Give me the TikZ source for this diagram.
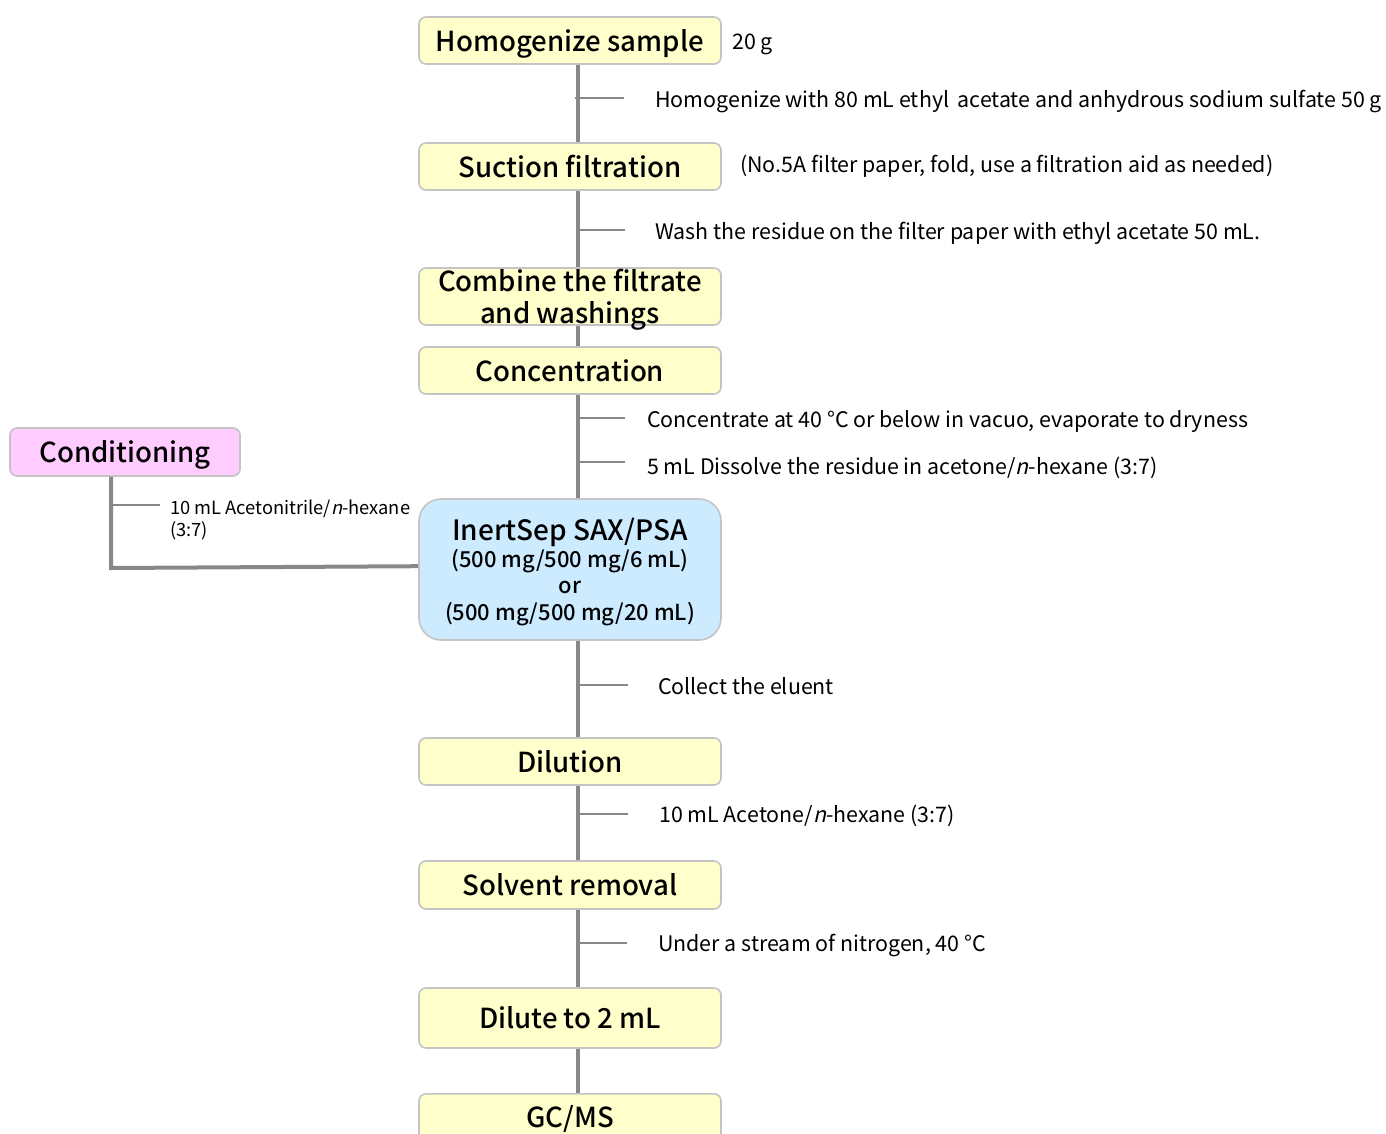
\documentclass[tikz,border=0pt]{standalone}
\usepackage{fontspec}
\setmainfont{Noto Sans CJK JP}[BoldFont={Noto Sans CJK JP Medium}, ItalicFont=Noto Sans CJK JP, ItalicFeatures={FakeSlant=0.22}]
\begin{document}
\begin{tikzpicture}[x=1pt,y=-1pt,
  boxbase/.style={draw=boxline, line width=1.6pt, rounded corners=7pt, minimum width=302pt, align=center, inner sep=0pt, text=black},
  boxfont/.style={font=\fontsize{27.6}{31}\selectfont\bfseries, text height=24pt, text depth=2.4pt},
  stepbox/.style={boxbase, fill=yel, boxfont},
  spine/.style={draw=spinegray, line width=4pt},
  tick/.style={draw=spinegray, line width=1.5pt},
  note/.style={anchor=west, inner sep=0pt, yshift=-3pt, font=\fontsize{21.4}{24}\selectfont}
]
\definecolor{yel}{HTML}{FFFFCC}
\definecolor{pink}{HTML}{FFCCFF}
\definecolor{lblue}{HTML}{CCEBFF}
\definecolor{boxline}{HTML}{C4C4C4}
\definecolor{spinegray}{HTML}{888888}
\useasboundingbox (0,0) rectangle (1386,1134);
\clip (0,0) rectangle (1386,1134);

% main boxes
\node[stepbox, minimum height=47pt] (hom) at (570,40.5) {Homogenize sample};
\node[stepbox, minimum height=47pt] (suc) at (570,166.5) {Suction filtration};
\node[boxbase, fill=yel, minimum height=57pt, font=\fontsize{27.6}{31.5}\selectfont\bfseries, text depth=0pt] (comb) at (570,296.5) {Combine the filtrate\\and washings};
\node[stepbox, minimum height=47pt] (conc) at (570,370.5) {Concentration};
\node[boxbase, fill=lblue, minimum height=141pt, rounded corners=22pt, font=\fontsize{22}{26.5}\selectfont\bfseries, text depth=0pt] (sep) at (570,569.5)
  {{\fontsize{28}{30}\selectfont InertSep SAX/PSA}\\
   (500 mg/500 mg/6 mL)\\
   or\\
   (500 mg/500 mg/20 mL)};
\node[stepbox, minimum height=47pt] (dil) at (570,761.5) {Dilution};
\node[stepbox, minimum height=48pt] (solv) at (570,885) {Solvent removal};
\node[stepbox, minimum height=60pt] (dil2) at (570,1018) {Dilute to 2 mL};
\node[boxbase, fill=yel, minimum height=60pt, anchor=north] (gc) at (570,1093) {};
\node[boxfont, inner sep=0pt] (gct) at (570,1116.5) {GC/MS};
\node[boxbase, fill=pink, minimum width=230pt, minimum height=48pt, boxfont] (cond) at (125,452) {Conditioning};

% spine
\draw[spine] ([xshift=8pt]hom.south) -- ([xshift=8pt]suc.north);
\draw[spine] ([xshift=8pt]suc.south) -- ([xshift=8pt]comb.north);
\draw[spine] ([xshift=8pt]comb.south) -- ([xshift=8pt]conc.north);
\draw[spine] ([xshift=8pt]conc.south) -- ([xshift=8pt]sep.north);
\draw[spine] ([xshift=8pt]sep.south) -- ([xshift=8pt]dil.north);
\draw[spine] ([xshift=8pt]dil.south) -- ([xshift=8pt]solv.north);
\draw[spine] ([xshift=8pt]solv.south) -- ([xshift=8pt]dil2.north);
\draw[spine] ([xshift=8pt]dil2.south) -- ([xshift=8pt]gc.north);
\coordinate (cbend) at (111,568);
\draw[spine] ([xshift=-14pt]cond.south) -- (cbend) -- ([yshift=3.3pt]sep.west);

% notes
\node[note] (n0) at (732,41) {20 g};
\node[note] (n1) at (655,99) {Homogenize with 80 mL ethyl\, acetate and anhydrous sodium sulfate 50 g};
\node[note] (n2) at (740,163) {(No.5A filter paper, fold, use a filtration aid as needed)};
\node[note] (n3) at (655,230) {Wash the residue on the filter paper with ethyl acetate 50 mL.};
\node[note] (n4) at (647,418) {Concentrate at 40 °C or below in vacuo, evaporate to dryness};
\node[note] (n5) at (647,465) {5 mL Dissolve the residue in acetone/\textit{n}-hexane (3:7)};
\node[note] (n6) at (658,683) {Collect the eluent};
\node[note] (n7) at (659,813) {10 mL Acetone/\textit{n}-hexane (3:7)};
\node[note] (n8) at (658,943) {Under a stream of nitrogen, 40 °C};
\node[note, anchor=north west, align=left, yshift=0pt, font=\fontsize{18.3}{22}\selectfont] (n9) at (170,497) {10 mL Acetonitrile/\textit{n}-hexane\\(3:7)};

% ticks
\coordinate (t1) at (575,98);
\coordinate (t3) at (578,230);
\coordinate (t4) at (580,418);
\coordinate (t5) at (580,462);
\coordinate (t6) at (580,685);
\coordinate (t7) at (580,814);
\coordinate (t8) at (580,943);
\coordinate (t9) at (111,505);
\draw[tick] (t1) -- ++(49,0);
\draw[tick] (t3) -- ++(47,0);
\draw[tick] (t4) -- ++(45,0);
\draw[tick] (t5) -- ++(45,0);
\draw[tick] (t6) -- ++(48,0);
\draw[tick] (t7) -- ++(48,0);
\draw[tick] (t8) -- ++(47,0);
\draw[tick] (t9) -- ++(49,0);
\end{tikzpicture}
\end{document}
